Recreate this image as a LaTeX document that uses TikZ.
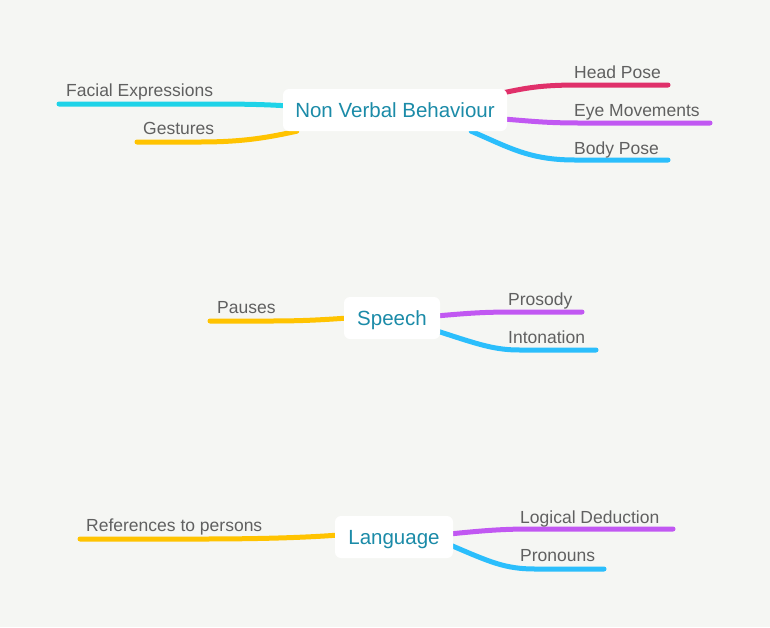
\documentclass[tikz,border=0pt]{standalone}
\usepackage{fontspec}
\setmainfont{Liberation Sans}
\pgfdeclarelayer{bgl}
\pgfdeclarelayer{lines}
\pgfsetlayers{bgl,lines,main}
\definecolor{bgc}{HTML}{F5F6F3}
\definecolor{ccyan}{HTML}{1ED3E8}
\definecolor{cyellow}{HTML}{FFC300}
\definecolor{cmag}{HTML}{E0306A}
\definecolor{cpurp}{HTML}{C158F2}
\definecolor{cblue}{HTML}{2BBEFC}
\definecolor{tgray}{HTML}{606060}
\definecolor{tteal}{HTML}{1B8BA8}
\tikzset{
  topic/.style={fill=white, rounded corners=6pt, minimum height=42pt, inner sep=0pt,
    text height=15.5pt, text depth=0pt,
    text=tteal, font=\fontsize{20.5}{24}\selectfont},
  leaf/.style={anchor=base west, inner sep=0pt, text=tgray, font=\fontsize{17.5}{20}\selectfont},
  branch/.style={line width=5pt, line cap=round},
}
\begin{document}
\begin{tikzpicture}[x=1pt,y=-1pt]
\begin{pgfonlayer}{bgl}
\fill[bgc] (0,0) rectangle (770,627);
\end{pgfonlayer}
\useasboundingbox (0,0) rectangle (770,627);

% topics
\node[topic, minimum width=224pt] (nvb) at (395,110) {Non Verbal Behaviour};
\node[topic, minimum width=96pt] (sp) at (392,318) {Speech};
\node[topic, minimum width=118pt] (lang) at (394,537) {Language};

% leaf labels
\node[leaf] (fe) at (66,96) {Facial Expressions};
\node[leaf] (ge) at (143,134) {Gestures};
\node[leaf] (hp) at (574,78) {Head Pose};
\node[leaf] (em) at (574,116) {Eye Movements};
\node[leaf] (bp) at (574,154) {Body Pose};
\node[leaf] (pa) at (217,313) {Pauses};
\node[leaf] (pr) at (508,305) {Prosody};
\node[leaf] (in) at (508,343) {Intonation};
\node[leaf] (rp) at (86,531) {References to persons};
\node[leaf] (ld) at (520,523) {Logical Deduction};
\node[leaf] (pn) at (520,561) {Pronouns};

% free ends
\coordinate (feE) at (59,104);
\coordinate (geE) at (137,142);
\coordinate (hpE) at (668,85);
\coordinate (emE) at (710,123);
\coordinate (bpE) at (668,160);
\coordinate (paE) at (210,321);
\coordinate (prE) at (582,312);
\coordinate (inE) at (596,350);
\coordinate (rpE) at (80,539);
\coordinate (ldE) at (673,529);
\coordinate (pnE) at (604,569);

\begin{pgfonlayer}{lines}
% Non Verbal Behaviour
\draw[branch, ccyan] ([xshift=6pt,yshift=4pt]nvb.west) .. controls (260,104) and (230,104) .. (200,104) -- (feE);
\draw[branch, cyellow] ([xshift=14pt]nvb.south west) .. controls (270,137) and (245,142) .. (200,142) -- (geE);
\draw[branch, cmag] ([xshift=-4pt,yshift=-4pt]nvb.north east) .. controls (530,87) and (545,85) .. (580,85) -- (hpE);
\draw[branch, cpurp] ([xshift=-4pt,yshift=-9pt]nvb.east) .. controls (530,121) and (545,123) .. (580,123) -- (emE);
\draw[branch, cblue] ([xshift=-36pt]nvb.south east) .. controls (510,148) and (530,160) .. (575,160) -- (bpE);
% Speech
\draw[branch, cyellow] ([xshift=4pt]sp.west) .. controls (320,320) and (300,321) .. (270,321) -- (paE);
\draw[branch, cpurp] ([xshift=-4pt,yshift=2pt]sp.east) .. controls (470,313) and (485,312) .. (515,312) -- (prE);
\draw[branch, cblue] ([xshift=-3pt,yshift=-13pt]sp.east) .. controls (480,345) and (495,350) .. (520,350) -- (inE);
% Language
\draw[branch, cyellow] ([xshift=4pt,yshift=2pt]lang.west) .. controls (300,538) and (250,539) .. (200,539) -- (rpE);
\draw[branch, cpurp] ([xshift=-4pt,yshift=3pt]lang.east) .. controls (480,531) and (500,529) .. (530,529) -- (ldE);
\draw[branch, cblue] ([xshift=-3pt,yshift=-8pt]lang.east) .. controls (490,562) and (505,569) .. (535,569) -- (pnE);
\end{pgfonlayer}
\end{tikzpicture}
\end{document}
